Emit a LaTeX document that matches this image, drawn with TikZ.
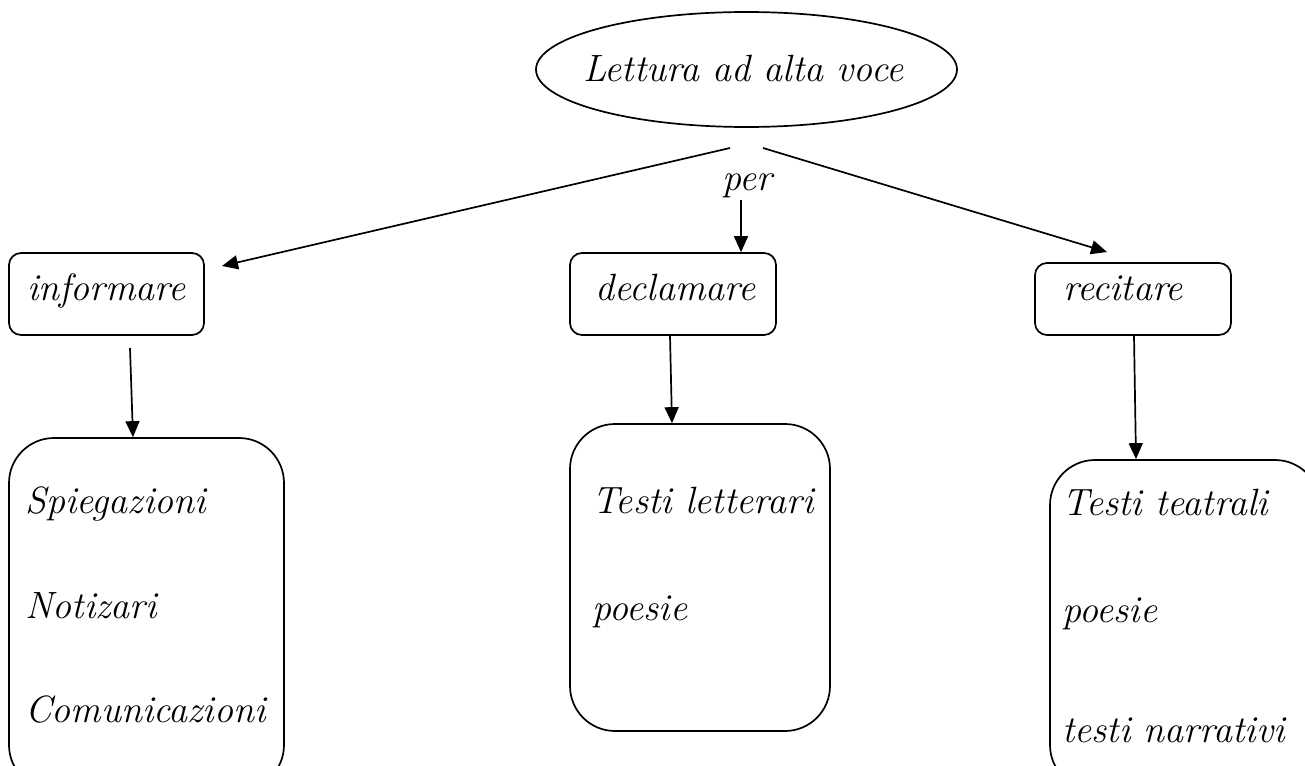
\documentclass[tikz,border=0pt]{standalone}
\usetikzlibrary{arrows.meta,shapes.geometric}
\begin{document}
\begin{tikzpicture}[x=1pt,y=-1pt,
  lbl/.style={font=\fontsize{38}{42}\selectfont\itshape, inner sep=0pt, anchor=base west},
  smallbox/.style={draw, line width=1.7pt, rounded corners=12pt, inner sep=0pt},
  bigbox/.style={draw, line width=1.7pt, rounded corners=45pt, inner sep=0pt},
  arr/.style={line width=1.7pt, -{Triangle[length=16pt,width=14pt]}}]
\useasboundingbox (0,0) rectangle (1305,765);

% top ellipse
\node[draw, ellipse, line width=1.7pt, minimum width=421pt, minimum height=115pt, inner sep=0pt] (top) at (746.5,69.5) {};
\node[lbl] (toptxt) at (583,82) {Lettura ad alta voce};

% small boxes
\node[smallbox, minimum width=195pt, minimum height=82pt] (inf) at (106.5,294) {};
\node[lbl] (inftxt) at (27,300) {informare};
\node[smallbox, minimum width=206pt, minimum height=82pt] (dec) at (673,294) {};
\node[lbl] (dectxt) at (595,300) {declamare};
\node[smallbox, minimum width=196pt, minimum height=72pt] (rec) at (1133,299) {};
\node[lbl] (rectxt) at (1063,300) {recitare};

% big boxes
\node[bigbox, minimum width=275pt, minimum height=352pt] (b1) at (146.5,614) {};
\node[lbl] (s1) at (25,513) {Spiegazioni};
\node[lbl] (s2) at (25,618) {Notizari};
\node[lbl] (s3) at (25,722) {Comunicazioni};

\node[bigbox, minimum width=260pt, minimum height=307pt] (b2) at (700,577.5) {};
\node[lbl] (t1) at (592,513) {Testi letterari};
\node[lbl] (t2) at (592,620) {poesie};

\node[bigbox, minimum width=270pt, minimum height=330pt] (b3) at (1185,625) {};
\node[lbl] (u1) at (1062,515) {Testi teatrali};
\node[lbl] (u2) at (1062,622) {poesie};
\node[lbl] (u3) at (1062,742) {testi narrativi};

% per
\node[lbl] (per) at (722,190) {per};

% connector end points
\coordinate (la) at (730,148);
\coordinate (lb) at (222,266);
\coordinate (ra) at (763,148);
\coordinate (rb) at (1107,252);
\coordinate (pa) at (741,200);
\coordinate (ia) at (130,348);

\draw[arr] (la) -- (lb);
\draw[arr] (ra) -- (rb);
\draw[arr] (pa) -- (pa |- dec.north);
\draw[arr] (ia) -- (133,0 |- b1.north);
\draw[arr] (670,0 |- dec.south) -- (672,0 |- b2.north);
\draw[arr] (1134,0 |- rec.south) -- (1136,0 |- b3.north);
\end{tikzpicture}
\end{document}
